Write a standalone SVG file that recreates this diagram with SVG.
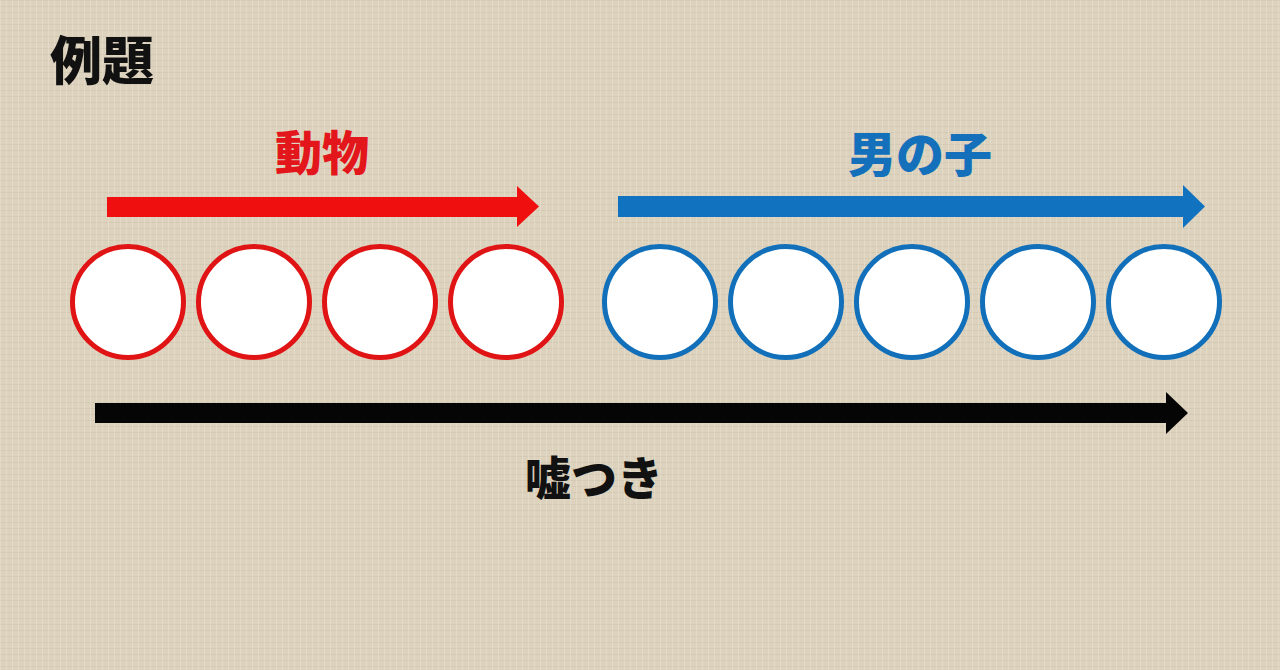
<svg xmlns="http://www.w3.org/2000/svg" width="1280" height="670" viewBox="0 0 1280 670">
<defs>
<pattern id="tex" width="6" height="6" patternUnits="userSpaceOnUse">
<rect width="6" height="6" fill="#DCD2BD"/>
<rect x="0" y="0" width="6" height="1" fill="#CFC3AA" opacity="0.6"/>
<rect x="0" y="0" width="1" height="6" fill="#E6DECC" opacity="0.7"/>
</pattern>
<style>
.t{font-family:"Noto Sans CJK JP","Noto Sans CJK SC",sans-serif;font-weight:900;text-anchor:middle}
.rc{fill:#FFFFFF;stroke:#E01414;stroke-width:5}
.bc{fill:#FFFFFF;stroke:#1270BA;stroke-width:5}
</style>
</defs>
<rect width="1280" height="670" fill="url(#tex)"/>
<g id="title"><text class="t" x="102" y="80" font-size="52" fill="#111111">例題</text></g>
<g id="label-animal"><text class="t" x="322" y="170" font-size="47" fill="#E3161C">動物</text></g>
<g id="label-boy"><text class="t" x="920" y="172" font-size="48" fill="#1470BA">男の子</text></g>
<g id="label-liar"><text class="t" x="594" y="495" font-size="46" fill="#111111">嘘つき</text></g>
<g id="connectors">
<polygon id="arrow-red" points="107,197 517,197 517,186 539,206.5 517,227 517,217 107,217" fill="#F00F0F"/>
<polygon id="arrow-blue" points="618,196 1183,196 1183,185 1205,206.5 1183,228 1183,217 618,217" fill="#1172C0"/>
<polygon id="arrow-black" points="95,403 1166,403 1166,392 1188,413 1166,434 1166,423 95,423" fill="#050505"/>
</g>
<g id="red-circles">
<circle id="r1" class="rc" cx="128" cy="302" r="55.5"/>
<circle id="r2" class="rc" cx="254" cy="302" r="55.5"/>
<circle id="r3" class="rc" cx="380" cy="302" r="55.5"/>
<circle id="r4" class="rc" cx="506" cy="302" r="55.5"/>
</g>
<g id="blue-circles">
<circle id="b1" class="bc" cx="660" cy="302" r="55.5"/>
<circle id="b2" class="bc" cx="786" cy="302" r="55.5"/>
<circle id="b3" class="bc" cx="912" cy="302" r="55.5"/>
<circle id="b4" class="bc" cx="1038" cy="302" r="55.5"/>
<circle id="b5" class="bc" cx="1164" cy="302" r="55.5"/>
</g>
</svg>
